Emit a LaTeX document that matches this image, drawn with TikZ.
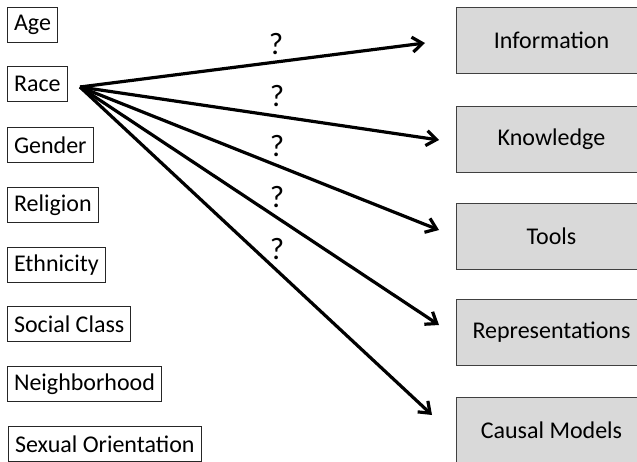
\documentclass[tikz,border=0pt]{standalone}
\usepackage{fontspec}
\setmainfont{Carlito}
\usetikzlibrary{arrows.meta}

\tikzset{
  factor/.style={draw=black!85, line width=1pt, anchor=north west,
    inner xsep=6.5pt, inner ysep=0pt, minimum height=35pt,
    font=\fontsize{24}{28}\selectfont},
  outcome/.style={draw=black!75, line width=1pt, fill=black!15, anchor=north west,
    minimum width=190pt, minimum height=66pt, inner sep=0pt,
    font=\fontsize{24}{28}\selectfont},
  link/.style={line width=3.2pt, -{Straight Barb[length=10pt,width=15pt,line width=3.2pt]}},
  query/.style={font=\fontsize{31}{35}\selectfont, inner sep=0pt}
}

\begin{document}
\begin{tikzpicture}[x=1pt,y=-1pt]
  \path[use as bounding box, clip] (0,0) rectangle (637,461);

  % demographic factors (left column)
  \node[factor] (age)    at (7,7)   {Age};
  \node[factor] (race)   at (7,66)  {Race};
  \node[factor] (gender) at (7,127) {Gender};
  \node[factor] (relig)  at (7,187) {Religion};
  \node[factor] (ethn)   at (7,247) {Ethnicity};
  \node[factor] (class)  at (7,306) {Social Class};
  \node[factor] (hood)   at (7,366) {Neighborhood};
  \node[factor] (sexor)  at (8,426) {Sexual Orientation};

  % outcomes (right column)
  \node[outcome] (info)  at (456,7)   {Information};
  \node[outcome] (know)  at (456,106) {Knowledge};
  \node[outcome] (tools) at (456,203) {Tools};
  \node[outcome] (repr)  at (456,299) {Representations};
  \node[outcome] (causal) at (456,397) {Causal Models};

  % arrow origin and arrow tips
  \coordinate (src) at (80,87);
  \coordinate (t1) at (425,43);
  \coordinate (t2) at (439,140);
  \coordinate (t3) at (439,230);
  \coordinate (t4) at (439,325);
  \coordinate (t5) at (432,415);

  \draw[link] (src) -- (t1);
  \draw[link] (src) -- (t2);
  \draw[link] (src) -- (t3);
  \draw[link] (src) -- (t4);
  \draw[link] (src) -- (t5);

  % question marks above the arrows
  \node[query] (q1) at (276,44)  {?};
  \node[query] (q2) at (277,96)  {?};
  \node[query] (q3) at (277,146) {?};
  \node[query] (q4) at (277,197) {?};
  \node[query] (q5) at (277,249) {?};
\end{tikzpicture}
\end{document}
